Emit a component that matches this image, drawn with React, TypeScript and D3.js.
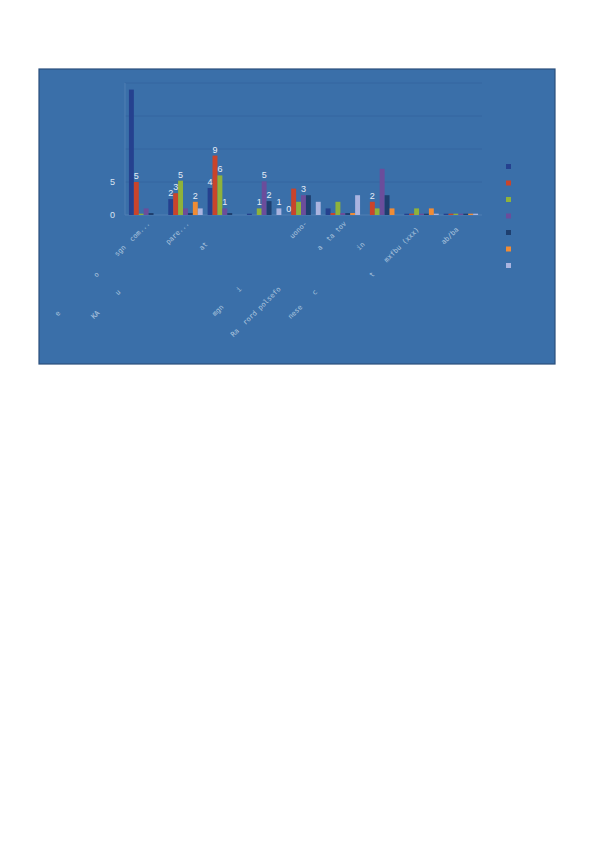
import * as d3 from "d3";
import { useEffect, useRef } from "react";

// category labels (scan is faded: only fragments are readable)
const categories = [
  "e            o      sgn  com...",
  "KA      u                pare...",
  "at       ",
  " ",
  "mgn     i                 uono-",
  "Ra  rord polsefo             a  ta tov",
  "nese    c              in       ",
  "t    mxfbu (xxx)  ",
  "ab/ba  ",
];

const seriesNames = ["s1", "s2", "s3", "s4", "s5", "s6", "s7"];
const seriesColors = ["#25418f", "#c9442b", "#8fb23b", "#6b4d9b", "#1e3f6f", "#f08c35", "#aab4e0"];

const s1 = [19, 2.4, 4.1, 0.2, 0, 1, 0, 0.2, 0.2];
const s2 = [5, 3.3, 9, 0, 4, 0.3, 2, 0.2, 0.2];
const s3 = [0.2, 5.2, 6, 1, 2, 2, 1, 1, 0.2];
const s4 = [1, 1, 1, 5.1, 3, 0.3, 7, 0.2, 0.2];
const s5 = [0.3, 0.3, 0.3, 2.1, 3, 0.3, 3, 0.2, 0.2];
const s6 = [0, 2, 0, 0, 0, 0.3, 1, 1, 0.2];
const s7 = [0, 1, 0, 1, 2, 3, 0, 0.2, 0.2];
const seriesValues = [s1, s2, s3, s4, s5, s6, s7];

// [series, category] pairs whose data label is still visible
const shownLabels = [
  [1, 0],
  [0, 1], [1, 1], [2, 1], [5, 1],
  [0, 2], [1, 2], [2, 2], [3, 2],
  [2, 3], [3, 3], [4, 3], [6, 3],
  [0, 4], [3, 4],
  [1, 6],
];

const yTicks = [0, 5, 10, 15, 20];
const yTickLabels = [0, 5];

const App = () => {
  const ref = useRef<SVGSVGElement | null>(null);

  useEffect(() => {
    if (!ref.current) return;
    const svg = d3.select(ref.current);
    svg.selectAll("*").remove();

    const box = { x: 39, y: 69, w: 516, h: 295 };
    const plot = { left: 125, right: 482, top: 83, bottom: 215 };

    // chart area
    svg
      .append("rect")
      .attr("x", box.x)
      .attr("y", box.y)
      .attr("width", box.w)
      .attr("height", box.h)
      .attr("fill", "#3a6fa9")
      .attr("stroke", "#2a4f7c")
      .attr("stroke-width", 1.2);

    const x0 = d3
      .scaleBand()
      .domain(categories.map((_, i) => String(i)))
      .range([plot.left, plot.right])
      .paddingInner(0.125)
      .paddingOuter(0.1);

    const x1 = d3.scaleBand().domain(seriesNames).range([0, x0.bandwidth()]);

    const y = d3.scaleLinear().domain([0, 20]).range([plot.bottom, plot.top]);

    // gridlines
    svg
      .append("g")
      .selectAll("line")
      .data(yTicks.slice(1))
      .join("line")
      .attr("x1", plot.left)
      .attr("x2", plot.right)
      .attr("y1", (d) => y(d))
      .attr("y2", (d) => y(d))
      .attr("stroke", "#3467a0")
      .attr("stroke-width", 1);

    // axis lines
    svg
      .append("line")
      .attr("x1", plot.left)
      .attr("x2", plot.left)
      .attr("y1", plot.top)
      .attr("y2", plot.bottom)
      .attr("stroke", "#5683b6")
      .attr("stroke-width", 0.8);
    svg
      .append("line")
      .attr("x1", plot.left)
      .attr("x2", plot.right)
      .attr("y1", plot.bottom)
      .attr("y2", plot.bottom)
      .attr("stroke", "#5683b6")
      .attr("stroke-width", 0.8);

    // y tick labels
    svg
      .append("g")
      .selectAll("text")
      .data(yTickLabels)
      .join("text")
      .attr("x", 115)
      .attr("y", (d) => y(d))
      .attr("dy", "0.35em")
      .attr("text-anchor", "end")
      .style("font-family", "Liberation Sans, Arial, sans-serif")
      .style("font-size", "9px")
      .style("fill", "#d9e4f2")
      .text((d) => d);

    // bars
    const groups = svg
      .append("g")
      .selectAll("g")
      .data(categories.map((_, ci) => ci))
      .join("g")
      .attr("transform", (ci) => `translate(${x0(String(ci))},0)`);

    groups
      .selectAll("rect")
      .data((ci) => seriesValues.map((vals, si) => ({ si, v: vals[ci] })))
      .join("rect")
      .attr("x", (d) => x1(seriesNames[d.si])!)
      .attr("y", (d) => y(d.v))
      .attr("width", x1.bandwidth())
      .attr("height", (d) => plot.bottom - y(d.v))
      .attr("fill", (d) => seriesColors[d.si]);

    // data labels
    svg
      .append("g")
      .selectAll("text")
      .data(shownLabels)
      .join("text")
      .attr("x", ([si, ci]) => x0(String(ci))! + x1(seriesNames[si])! + x1.bandwidth() / 2)
      .attr("y", ([si, ci]) => y(seriesValues[si][ci]) - 3)
      .attr("text-anchor", "middle")
      .style("font-family", "Liberation Sans, Arial, sans-serif")
      .style("font-size", "9px")
      .style("fill", "#e6edf7")
      .text(([si, ci]) => d3.format(".0f")(seriesValues[si][ci]));

    // category labels, rotated -45
    svg
      .append("g")
      .selectAll("text")
      .data(categories)
      .join("text")
      .attr(
        "transform",
        (_, i) => `translate(${x0(String(i))! + x0.bandwidth() / 2 + 4},${plot.bottom + 9}) rotate(-45)`
      )
      .attr("text-anchor", "end")
      .style("font-family", "DejaVu Sans Mono, monospace")
      .style("font-size", "7px")
      .style("white-space", "pre")
      .style("fill", "#dfe9f5")
      .style("opacity", 0.7)
      .text((d) => d);

    // legend markers
    svg
      .append("g")
      .selectAll("rect")
      .data(seriesNames)
      .join("rect")
      .attr("x", 506)
      .attr("y", (_, i) => 164 + i * 16.5)
      .attr("width", 5)
      .attr("height", 5)
      .attr("fill", (_, i) => seriesColors[i]);
  }, []);

  return (
    <svg
      ref={ref}
      width={594}
      height={850}
      style={{ position: "absolute", left: 0, top: 0, background: "#ffffff" }}
    />
  );
};

export default App;
